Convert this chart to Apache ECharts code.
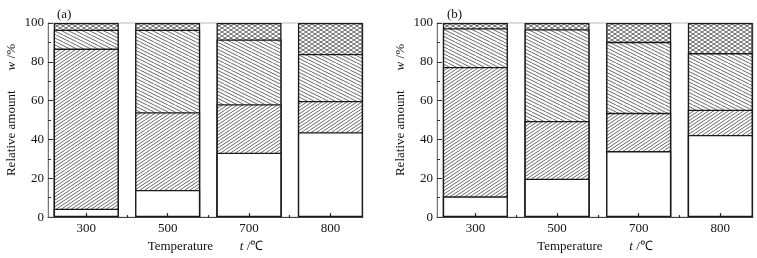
<!DOCTYPE html>
<html>
<head>
<meta charset="utf-8">
<script src="https://cdn.jsdelivr.net/npm/echarts@6/dist/echarts.min.js"></script>
<style>
  html, body { margin: 0; padding: 0; background: #fff; }
  #chart { width: 757px; height: 258px; }
</style>
</head>
<body>
<div id="chart"></div>
<script>
const temps = ['300', '500', '700', '800'];

// panel (a): phase amounts, bottom to top (%)
const aWhite = [4.3, 14.0, 33.2, 43.7];
const aFine = [82.5, 40.0, 25.0, 16.1];
const aCoarse = [9.7, 42.5, 33.3, 24.2];
const aCross = [3.5, 3.5, 8.5, 16.0];

// panel (b)
const bWhite = [10.7, 19.8, 34.0, 42.3];
const bFine = [66.6, 29.7, 19.7, 13.0];
const bCoarse = [20.0, 47.3, 36.6, 29.2];
const bCross = [2.7, 3.2, 9.7, 15.5];

const FONT = 'Liberation Serif';

// small repeating hatch tiles, white ground so overlapping bars hide what is below
function hatch(w, h, step, dirs, color, lw) {
  const c = document.createElement('canvas');
  c.width = w; c.height = h;
  const g = c.getContext('2d');
  g.fillStyle = '#fff';
  g.fillRect(0, 0, w, h);
  g.strokeStyle = color;
  g.lineWidth = lw;
  dirs.forEach((d) => {
    for (let x = -2 * w; x <= 2 * w; x += step) {
      g.beginPath();
      if (d > 0) { g.moveTo(x, h); g.lineTo(x + w, 0); }
      else { g.moveTo(x, 0); g.lineTo(x + w, h); }
      g.stroke();
    }
  });
  return { image: c, repeat: 'repeat' };
}

const finePat = hatch(15, 10, 5, [1], '#555', 0.9);
const coarsePat = hatch(14, 7, 7, [-1], '#555', 0.9);
const crossPat = hatch(6, 4, 6, [1, -1], '#555', 0.9);

function xAxes(gi) {
  return [
    {
      gridIndex: gi, type: 'value', min: -0.47, max: 3.4, z: 5,
      name: '{n|Temperature}        {i|t} {n|/℃}',
      nameLocation: 'middle', nameGap: 20,
      nameTextStyle: {
        rich: {
          n: { fontFamily: FONT, fontSize: 13, color: '#111' },
          i: { fontFamily: FONT, fontSize: 13, fontStyle: 'italic', color: '#111' },
        },
      },
      axisLine: { lineStyle: { color: '#444', width: 1 } },
      axisTick: { inside: true, length: 4, customValues: [0, 1, 2, 3], lineStyle: { color: '#222', width: 1.2 } },
      axisLabel: {
        customValues: [0, 1, 2, 3], margin: 5,
        formatter: (v) => temps[Math.round(v)],
        fontFamily: FONT, fontSize: 13, color: '#111',
      },
      splitLine: { show: false },
    },
    {
      gridIndex: gi, type: 'value', min: -0.47, max: 3.4, position: 'bottom', z: 5,
      axisLine: { show: false },
      axisTick: { inside: true, length: 2, customValues: [0.5, 1.5, 2.5], lineStyle: { color: '#222', width: 1.2 } },
      axisLabel: { show: false },
      splitLine: { show: false },
    },
  ];
}

function yAxis(gi) {
  return {
    gridIndex: gi, type: 'value', min: 0, max: 100, interval: 20,
    name: '{n|Relative amount}      {i|w} {n|/%}',
    nameLocation: 'middle', nameGap: 30,
    nameTextStyle: {
      padding: [0, 0, 0, 20],
      rich: {
        n: { fontFamily: FONT, fontSize: 13, color: '#111' },
        i: { fontFamily: FONT, fontSize: 13, fontStyle: 'italic', color: '#111' },
      },
    },
    axisLine: { show: true, onZero: false, lineStyle: { color: '#777', width: 1 } },
    axisTick: { inside: true, length: 5, lineStyle: { color: '#333' } },
    minorTick: { show: true, splitNumber: 2, length: 3, lineStyle: { color: '#333' } },
    axisLabel: { margin: 4, fontFamily: FONT, fontSize: 13, color: '#111' },
    splitLine: { show: false },
  };
}

// segments drawn as overlapping bars of cumulative height, tallest first
function bars(gi, parts) {
  const fills = ['#fff', finePat, coarsePat, crossPat];
  const tops = parts.map((_, k) => parts[0].map((__, i) => {
    let s = 0;
    for (let j = 0; j <= k; j++) s += parts[j][i];
    return s;
  }));
  const out = [];
  for (let k = parts.length - 1; k >= 0; k--) {
    out.push({
      type: 'bar',
      xAxisIndex: gi * 2,
      yAxisIndex: gi,
      barWidth: 65,
      barGap: '-100%',
      silent: true,
      itemStyle: { color: fills[k], borderColor: '#1a1a1a', borderWidth: 1.3 },
      data: tops[k].map((v, i) => [i, v]),
    });
  }
  return out;
}

const chart = echarts.init(document.getElementById('chart'));
chart.setOption({
  animation: false,
  grid: [
    { left: 48, top: 23, width: 315, height: 200, show: true, borderColor: '#bbb', borderWidth: 1 },
    { left: 437, top: 23, width: 316, height: 200, show: true, borderColor: '#bbb', borderWidth: 1 },
  ],
  xAxis: [...xAxes(0), ...xAxes(1)],
  yAxis: [yAxis(0), yAxis(1)],
  graphic: [
    { type: 'text', left: 57, top: 8, style: { text: '(a)', font: '13px "Liberation Serif"', fill: '#111' } },
    { type: 'text', left: 447, top: 8, style: { text: '(b)', font: '13px "Liberation Serif"', fill: '#111' } },
  ],
  series: [
    ...bars(0, [aWhite, aFine, aCoarse, aCross]),
    ...bars(1, [bWhite, bFine, bCoarse, bCross]),
  ],
});
</script>
</body>
</html>
